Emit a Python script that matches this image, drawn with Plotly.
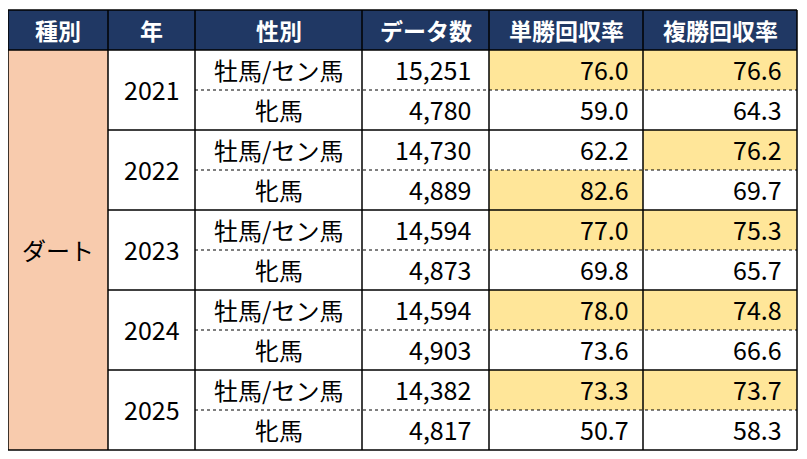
import plotly.graph_objects as go

headers = ["種別", "年", "性別", "データ数", "単勝回収率", "複勝回収率"]
course_type = "ダート"
years = ["2021", "2022", "2023", "2024", "2025"]
sexes = ["牡馬/セン馬", "牝馬"]
data_counts = [15251, 4780, 14730, 4889, 14594, 4873, 14594, 4903, 14382, 4817]
win_return = [76.0, 59.0, 62.2, 82.6, 77.0, 69.8, 78.0, 73.6, 73.3, 50.7]
place_return = [76.6, 64.3, 76.2, 69.7, 75.3, 65.7, 74.8, 66.6, 73.7, 58.3]

# layout geometry (page pixels)
W, H = 807, 459
OFF = 8  # page body margin
col_x = [8, 108, 195, 362, 489, 643, 797]
top, head_h, row_h = 10, 40, 40
NAVY = "#203864"
PEACH = "#F8CBAD"
YELLOW = "#FFE699"
FONT = "Noto Sans CJK JP"

shapes, ann = [], []

def rect(x0, x1, y0, y1, fill):
    shapes.append(dict(type="rect", x0=x0, x1=x1, y0=y0, y1=y1, fillcolor=fill,
                       line=dict(width=0), layer="below"))

def line(x0, y0, x1, y1, width=1.5, dash="solid"):
    shapes.append(dict(type="line", x0=x0, y0=y0, x1=x1, y1=y1,
                       line=dict(color="black", width=width, dash=dash)))

def text(x, y, s, align="center", color="black", size=24, bold=False):
    ann.append(dict(x=x, y=y, text=f"<b>{s}</b>" if bold else s, showarrow=False,
                    xanchor=align, yanchor="middle",
                    font=dict(family=FONT, size=size, color=color)))

n_rows = len(data_counts)
bottom = top + head_h + n_rows * row_h

# header
rect(col_x[0], col_x[-1], top, top + head_h, NAVY)
for i, h in enumerate(headers):
    text((col_x[i] + col_x[i + 1]) / 2, top + head_h / 2, h, color="white", size=23, bold=True)

# type column
rect(col_x[0], col_x[1], top + head_h, bottom, PEACH)
text((col_x[0] + col_x[1]) / 2, (top + head_h + bottom) / 2 - 1, course_type)

# highlights: higher value within each year pair
for series, ci in ((win_return, 4), (place_return, 5)):
    for y in range(len(years)):
        a, b = series[2 * y], series[2 * y + 1]
        r = 2 * y if a >= b else 2 * y + 1
        y0 = top + head_h + r * row_h
        rect(col_x[ci], col_x[ci + 1], y0, y0 + row_h, YELLOW)

# rows
for y, yr in enumerate(years):
    y0 = top + head_h + 2 * y * row_h
    text((col_x[1] + col_x[2]) / 2, y0 + row_h - 1, yr, size=25)
    for k, sx in enumerate(sexes):
        r = 2 * y + k
        cy = top + head_h + r * row_h + row_h / 2 - 1
        text((col_x[2] + col_x[3]) / 2, cy, sx)
        text(col_x[4] - 16, cy, f"{data_counts[r]:,}", align="right", size=25)
        text(col_x[5] - 12, cy, f"{win_return[r]:.1f}", align="right", size=25)
        text(col_x[6] - 13, cy, f"{place_return[r]:.1f}", align="right", size=25)
    # dotted separator within year
    line(col_x[2], y0 + row_h, col_x[-1], y0 + row_h, width=1, dash="dot")
    # solid separator after year
    if y < len(years) - 1:
        line(col_x[1], y0 + 2 * row_h, col_x[-1], y0 + 2 * row_h)

# grid lines
line(col_x[0], top + head_h, col_x[-1], top + head_h)
for x in col_x:
    line(x, top, x, bottom)
line(col_x[0], top, col_x[-1], top)
line(col_x[0], bottom, col_x[-1], bottom)

fig = go.Figure()
fig.update_layout(
    width=W, height=H, margin=dict(l=0, r=0, t=0, b=0),
    paper_bgcolor="white", plot_bgcolor="white",
    xaxis=dict(range=[OFF, W + OFF], visible=False, fixedrange=True),
    yaxis=dict(range=[H + OFF, OFF], visible=False, fixedrange=True),
    shapes=shapes, annotations=ann, showlegend=False,
)
fig.write_html("out.html")
